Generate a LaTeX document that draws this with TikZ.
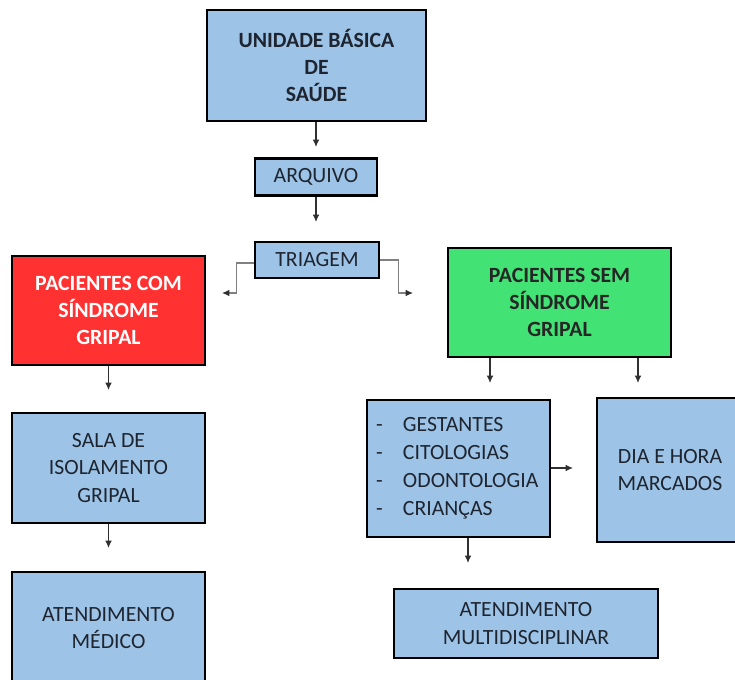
\documentclass[tikz,border=0pt]{standalone}
\usepackage{fontspec}
\setmainfont{Carlito}
\usetikzlibrary{arrows.meta}
\definecolor{boxblue}{HTML}{9DC3E6}
\definecolor{boxred}{HTML}{FF3131}
\definecolor{boxgreen}{HTML}{43E274}
\definecolor{txt}{HTML}{1E2530}
\definecolor{conn}{HTML}{303030}
\tikzset{
  box/.style={draw=black, line width=1.6pt, fill=boxblue, text=txt, align=center,
    inner sep=0pt, font=\fontsize{16.3}{20.5}\selectfont},
  bbox/.style={box, font=\fontsize{16.3}{20.5}\selectfont\bfseries},
  conn/.style={draw=conn, line width=0.8pt, -{Latex[length=5.5pt,width=5pt,color=conn]}},
}
\begin{document}
\begin{tikzpicture}[x=0.75pt,y=-0.75pt]
\useasboundingbox (0,0) rectangle (735,680);
\begin{scope}
\clip (0,0) rectangle (735,680);
\node[bbox, minimum width=164.25pt, minimum height=83.25pt] (ubs) at (316.5,65.5) {UNIDADE BÁSICA\\DE\\SAÚDE};
\node[box, minimum width=91.5pt, minimum height=27.75pt] (arq) at (316,177) {ARQUIVO};
\node[box, minimum width=93pt, minimum height=27pt] (tri) at (317,260) {TRIAGEM};
\node[bbox, fill=boxred, text=white, minimum width=144.75pt, minimum height=81.75pt] (red) at (108.5,310.5) {PACIENTES COM\\SÍNDROME\\GRIPAL};
\node[bbox, fill=boxgreen, text=black!85, minimum width=167.25pt, minimum height=81.75pt] (grn) at (559.5,302.5) {PACIENTES SEM\\SÍNDROME\\GRIPAL};
\node[box, minimum width=144.75pt, minimum height=82.5pt] (sala) at (108.5,468) {SALA DE\\ISOLAMENTO\\GRIPAL};
\node[box, minimum width=144.75pt, minimum height=84pt] (med) at (108.5,628) {ATENDIMENTO\\MÉDICO};
\node[box, minimum width=137.25pt, minimum height=102.75pt, text width=123.75pt, align=left, inner xsep=6.75pt, font=\fontsize{16.3}{21}\selectfont] (lst) at (458.5,468.5)
  {\makebox[20.25pt][l]{-}GESTANTES\\\makebox[20.25pt][l]{-}CITOLOGIAS\\\makebox[20.25pt][l]{-}ODONTOLOGIA\\\makebox[20.25pt][l]{-}CRIANÇAS};
\node[box, minimum width=109.5pt, minimum height=108pt] (dia) at (670,470) {DIA E HORA\\MARCADOS};
\node[box, minimum width=198pt, minimum height=51.75pt] (mul) at (526,623.5) {ATENDIMENTO\\MULTIDISCIPLINAR};
\end{scope}
\coordinate (a1) at (316,147);
\coordinate (a2) at (316,222);
\coordinate (tl) at (222,293);
\coordinate (tr) at (413,293);
\coordinate (r1) at (108.5,390);
\coordinate (g1) at (490,383);
\coordinate (g2) at (638,383);
\coordinate (s1) at (108.5,548);
\coordinate (l1) at (468,563);
\coordinate (l2) at (573,468);
\draw[conn] (ubs.south -| a1) -- (a1);
\draw[conn] (arq.south -| a2) -- (a2);
\draw[conn, draw=gray] ([yshift=-2.25pt]tri.west) -- ++(-17,0) |- (tl);
\draw[conn, draw=gray] ([yshift=0pt]tri.east) -- ++(18,0) |- (tr);
\draw[conn] (red.south -| r1) -- (r1);
\draw[conn] (grn.south -| g1) -- (g1);
\draw[conn] (grn.south -| g2) -- (g2);
\draw[conn] (sala.south -| s1) -- (s1);
\draw[conn] (lst.south -| l1) -- (l1);
\draw[conn] (lst.east |- l2) -- (l2);
\end{tikzpicture}
\end{document}
